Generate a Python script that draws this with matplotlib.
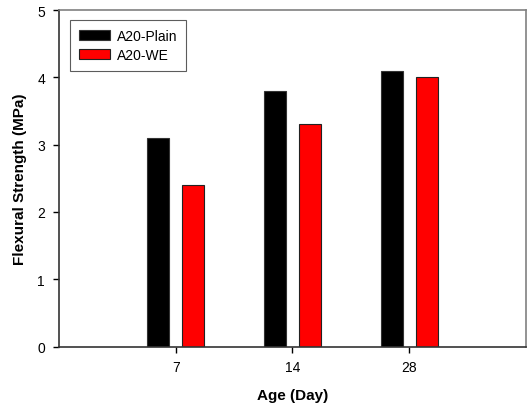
import matplotlib
matplotlib.use("Agg")
import matplotlib.pyplot as plt
import numpy as np

plt.rcParams['font.family'] = ['Liberation Sans', 'DejaVu Sans']

# === DATA ===
ages = ["7", "14", "28"]
plain = [3.1, 3.8, 4.1]
we = [2.4, 3.3, 4.0]

x = np.arange(1, len(ages) + 1)
w = 0.19
off = 0.15

fig = plt.figure(figsize=(5.28, 4.10), dpi=100)
ax = fig.add_axes([0.1117, 0.1524, 0.8843, 0.8206])

ax.bar(x - off, plain, w, color="black", edgecolor="#333333", linewidth=0.8, label="A20-Plain")
ax.bar(x + off, we, w, color="red", edgecolor="#222222", linewidth=0.8, label="A20-WE")

ax.set_xlim(0, 4)
ax.set_ylim(0, 5)
ax.set_xticks(x)
ax.set_xticklabels(ages)
ax.set_yticks(range(6))
ax.tick_params(labelsize=10, direction="out", length=4, width=1, pad=6)

ax.spines["left"].set_color("#333333")
ax.spines["bottom"].set_color("#333333")
ax.spines["top"].set_color("#808080")
ax.spines["right"].set_color("#808080")
for s in ax.spines.values():
    s.set_linewidth(1.2)

ax.set_xlabel("Age (Day)", fontsize=11, fontweight="bold", labelpad=10)
ax.set_ylabel("Flexural Strength (MPa)", fontsize=11, fontweight="bold", labelpad=7)

leg = ax.legend(loc="upper left", bbox_to_anchor=(0.024, 0.97), fontsize=10,
                frameon=True, fancybox=False, edgecolor="#333333",
                handlelength=2.2, handleheight=0.72, handletextpad=0.5,
                borderpad=0.65, labelspacing=0.35, borderaxespad=0)
leg.get_frame().set_linewidth(0.8)

fig.savefig("out.png", dpi=100)
